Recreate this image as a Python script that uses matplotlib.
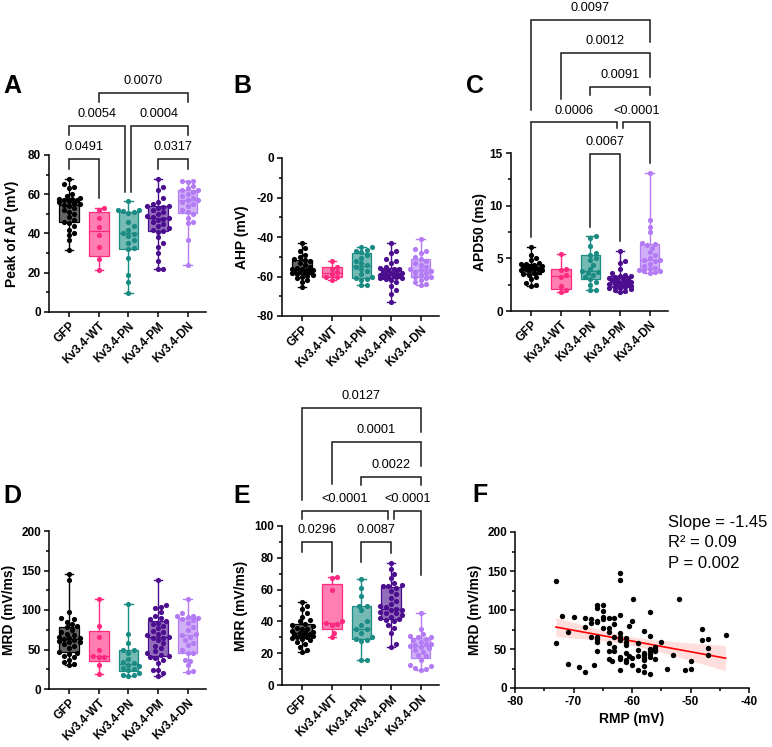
import numpy as np
import matplotlib
matplotlib.use('Agg')
import matplotlib.pyplot as plt
from matplotlib.colors import to_rgba
from matplotlib.ticker import MultipleLocator

plt.rcParams['font.family'] = ['Liberation Sans', 'DejaVu Sans']
plt.rcParams['axes.unicode_minus'] = False

groups = ['GFP', 'Kv3.4-WT', 'Kv3.4-PN', 'Kv3.4-PM', 'Kv3.4-DN']
colors = ['#000000', '#FF2A7F', '#1A8C84', '#4B0E8F', '#B47CF4']

# Panel A: Peak of AP (mV)
peak_gfp = [31.5, 36.5, 39, 40.5, 42, 44, 45.5, 46, 47, 48.5, 50, 51, 52, 53, 54, 54.5, 55, 55.5, 56,
            56.5, 57, 57, 57.5, 57.5, 58, 59, 60, 63, 63.5, 65, 68]
peak_wt = [21.5, 27, 33, 39, 43.5, 48, 52, 53]
peak_pn = [9.8, 15.1, 18.9, 27.4, 32, 32.5, 35, 36.5, 38.5, 39.5, 40.5, 42, 44, 46, 50.5, 51, 51.5, 52, 52, 56.5]
peak_pm = [22, 22, 26, 30, 33, 35, 38, 41, 41.5, 42, 43, 44, 45, 46, 47, 47.5, 48, 48.5, 49, 50, 51, 52,
           53, 53.5, 54, 54, 55, 56, 58, 62, 63.5, 68]
peak_dn = [24, 36.5, 45.5, 46, 48, 50, 51, 52, 54, 55, 56, 57, 57, 58, 59, 60, 61, 62, 62, 63, 64, 66, 66.5, 66.5]

# Panel B: AHP (mV)
ahp_gfp = [-65.5, -63, -62, -61, -60, -59.5, -59, -58.5, -58, -58, -57.5, -57, -57, -56.5, -56.5, -56, -56,
           -55.5, -55, -54, -53, -52, -51.5, -51, -50, -49, -47, -45.5, -43]
ahp_wt = [-62, -60.5, -60, -58.5, -57.5, -56, -55, -52]
ahp_pn = [-64.5, -64.5, -62, -61.5, -61, -60, -58.5, -57, -56, -55, -54, -53, -52, -50.5, -49, -47.5, -47,
          -46.5, -45, -45]
ahp_pm = [-73, -69, -67, -65, -63, -62, -61.5, -61, -61, -60.5, -60, -60, -59.5, -59, -59, -58.5, -58, -58,
          -57.5, -57, -56.5, -56, -56, -55.5, -55, -53, -52, -51, -48, -47, -43]
ahp_dn = [-64.5, -64, -63, -62, -61, -60, -60, -59, -58, -57.5, -57, -56.5, -56, -55, -54, -53, -52, -51, -50,
          -48, -47, -46, -41]

# Panel C: APD50 (ms)
apd_gfp = [2.4, 2.5, 2.7, 3.0, 3.2, 3.4, 3.5, 3.6, 3.7, 3.8, 3.9, 3.9, 4.0, 4.0, 4.0, 4.1, 4.1, 4.2, 4.3, 4.3,
           4.4, 4.5, 4.5, 4.6, 4.8, 5.0, 5.3, 6.1]
apd_wt = [1.8, 2.0, 2.4, 3.2, 3.4, 3.9, 4.0, 5.4]
apd_pn = [2.0, 2.0, 2.5, 2.8, 3.0, 3.2, 3.4, 3.6, 3.7, 3.8, 4.0, 4.4, 4.8, 5.0, 5.3, 5.5, 6.2, 6.9, 7.1]
apd_pm = [1.8, 1.9, 2.0, 2.1, 2.2, 2.2, 2.3, 2.3, 2.4, 2.5, 2.5, 2.6, 2.6, 2.7, 2.7, 2.8, 2.8, 2.9, 2.9, 3.0,
          3.0, 3.1, 3.2, 3.3, 3.3, 3.4, 3.6, 4.0, 4.6, 4.7, 5.7]
apd_dn = [3.6, 3.7, 3.8, 3.8, 3.9, 4.0, 4.1, 4.3, 4.5, 4.7, 4.8, 4.8, 5.0, 5.3, 5.6, 6.0, 6.3, 6.4, 6.5, 7.5,
          8.0, 8.6, 13.1]

# Panel D: MRD (mV/ms)
mrd_gfp = [30, 32, 34, 37, 40, 42, 44, 46, 47, 52, 55, 57, 59, 60, 61, 62, 63, 64, 65, 66, 68, 70, 72, 75, 78,
           80, 82, 85, 88, 90, 98, 138, 146]
mrd_wt = [19, 30, 40, 41, 42, 49, 66, 80, 114.5]
mrd_pn = [17, 17.5, 18, 20, 24, 25, 27, 29, 31, 33, 34, 38, 45, 49, 50, 58, 69.5, 107]
mrd_pm = [16, 20, 24, 24.5, 33, 37, 39, 40, 42, 43, 45, 48, 52, 55, 58, 62, 64, 65, 66, 68, 70, 72, 74, 77,
          80, 82, 84, 86, 88, 90, 93, 97, 102, 104, 106, 138.5]
mrd_dn = [21, 23, 30, 36, 37, 45, 46, 50, 56, 58, 62, 66, 68, 70, 75, 79, 84, 87, 89, 90, 91, 92, 93, 96, 114]

# Panel E: MRR (mV/ms)
mrr_gfp = [21, 22, 24, 26, 27, 28, 29, 29.5, 30, 30.5, 31, 31, 32, 32, 32.5, 33, 33.5, 34, 35, 35.5, 36, 37,
           38, 38.5, 40, 41, 43, 45, 48, 50, 52.5]
mrr_wt = [30, 33, 37.5, 38.5, 39, 40, 60, 67.5, 68]
mrr_pn = [15.5, 16, 27.5, 28.5, 29, 30, 33, 35, 35.5, 37.5, 40, 47, 49.5, 50, 56, 61, 66.5]
mrr_pm = [24, 26, 33, 36, 38, 40, 41, 41.5, 42, 43, 44, 45, 45.5, 46, 47, 47, 48, 49, 50, 51, 53, 55, 57, 59,
          61, 62, 62.5, 63, 64, 67, 70, 73, 77]
mrr_dn = [9.5, 10, 11, 12, 12.5, 16, 18, 19, 21, 22, 23, 24, 24.5, 25, 25.5, 26, 27, 28, 29, 30, 30.5, 31, 32,
          35, 45]

# Panel F: RMP (mV) vs MRD (mV/ms)
rmp = [-73, -73, -72, -71, -71, -70, -69, -68, -68, -68, -67, -67, -67, -66.5, -66, -66, -66, -66, -66, -66,
       -66, -66, -65, -65, -65, -65, -65, -64, -64, -64, -64, -64, -64, -63.5, -63, -63, -63, -63, -63, -62,
       -62, -62, -62, -62, -62, -62, -62, -62, -61, -61, -61, -61, -61, -61, -60.5, -60.5, -60, -60, -60,
       -59.8, -59, -59, -59, -59, -58, -58, -58, -58, -58, -58, -58, -57, -57, -57, -57, -57, -57, -57, -56,
       -56, -56, -56, -55, -54, -53, -52, -51, -50, -50, -48, -48, -47, -47, -47, -44]
mrd_f = [137.4, 58.3, 92.8, 71.5, 30.6, 91.5, 27.2, 89.4, 77.9, 20, 88.1, 83, 66, 29.8, 106, 103, 86, 84, 66,
         63, 59.6, 46.8, 106.4, 98.7, 91.5, 88, 77.4, 89.4, 77.4, 72.3, 57.4, 48, 37, 34, 89.4, 81.7, 66, 53.2,
         46.8, 146.8, 138.3, 93.6, 70, 66, 60.9, 39.6, 37, 23.4, 63.8, 59.6, 55.3, 44.7, 36.2, 32.8, 80, 40.4,
         86.4, 29.8, 39, 114, 58.3, 48.9, 40.4, 22.6, 73.2, 44.7, 41.7, 39.1, 36.2, 28.5, 20, 97, 66.8, 49.8,
         46.8, 43.8, 39.6, 18.3, 53.2, 46.8, 37, 49.8, 59.6, 24.7, 42.6, 114, 23.4, 34, 24.7, 75.3, 61.7, 63,
         51.9, 41.7, 68.1]
f_stats = ['Slope = -1.45', 'R\u00b2 = 0.09', 'P = 0.002']

# p-value annotations: (group i, group j, label)
cmp_a = [(0, 1, '0.0491'), (0, 2, '0.0054'), (2, 4, '0.0004'), (1, 4, '0.0070'), (3, 4, '0.0317')]
cmp_c = [(0, 4, '0.0097'), (1, 4, '0.0012'), (2, 4, '0.0091'), (0, 3, '0.0006'), (3, 4, '<0.0001'),
         (2, 3, '0.0067')]
cmp_e = [(0, 4, '0.0127'), (1, 4, '0.0001'), (2, 4, '0.0022'), (0, 3, '<0.0001'), (3, 4, '<0.0001'),
         (0, 1, '0.0296'), (2, 3, '0.0087')]

W, H = 772, 747
fig = plt.figure(figsize=(W / 100, H / 100), dpi=100)


def add_ax(left, top, width, height):
    return fig.add_axes([left / W, 1 - (top + height) / H, width / W, height / H])


def style_axes(ax):
    for s in ['top', 'right']:
        ax.spines[s].set_visible(False)
    for s in ['left', 'bottom']:
        ax.spines[s].set_linewidth(1.1)
    ax.tick_params(which='major', direction='out', length=3.8, width=1.1, labelsize=8.5, pad=2)
    ax.tick_params(which='minor', direction='out', length=2.3, width=1.1)
    for lab in ax.get_yticklabels():
        lab.set_fontweight('bold')


def swarm_offsets(values, ypx, xpx, d=4.8, maxoff=0.36):
    vals = np.asarray(values, float)
    order = np.argsort(vals)
    placed = []
    offs = np.zeros(len(vals))
    cands = [0.0]
    for k in range(1, 30):
        cands += [k * d * 0.55, -k * d * 0.55]
    for i in order:
        y = vals[i] * ypx
        best, bestd = 0.0, -1
        for c in cands:
            if abs(c) > maxoff * xpx:
                continue
            md = min([np.hypot(c - px, y - py) for px, py in placed] + [99])
            if md >= d:
                best = c
                break
            if md > bestd:
                best, bestd = c, md
        placed.append((best, y))
        offs[i] = best / xpx
    return offs


def box_panel(ax, data, ylim, major, minor, ylabel, hpx, label_x):
    ax.set_xlim(-0.68, 4.62)
    ax.set_ylim(*ylim)
    stats = []
    for v in data:
        v = np.asarray(v, float)
        q1, med, q3 = np.percentile(v, [25, 50, 75], method='weibull')
        stats.append(dict(med=med, q1=q1, q3=q3, whislo=v.min(), whishi=v.max(), fliers=[]))
    ypx = hpx / (ylim[1] - ylim[0])
    for i, (st, col, v) in enumerate(zip(stats, colors, data)):
        a = 0.6
        ax.bxp([st], positions=[i], widths=0.66, patch_artist=True, showfliers=False,
               capwidths=0.28, manage_ticks=False,
               boxprops=dict(facecolor=to_rgba(col, a), edgecolor=col, linewidth=0.9),
               whiskerprops=dict(color=col, linewidth=1.0),
               capprops=dict(color=col, linewidth=1.0),
               medianprops=dict(color=col, linewidth=0.9))
        offs = swarm_offsets(v, ypx, 29.6)
        ax.scatter(i + offs, v, s=14, color=col, zorder=3, linewidths=0, clip_on=False)
    ax.set_xticks(range(5))
    ax.set_xticklabels(groups, rotation=45, ha='right', rotation_mode='anchor', fontsize=9.5,
                       fontweight='bold')
    ax.yaxis.set_major_locator(MultipleLocator(major))
    ax.yaxis.set_minor_locator(MultipleLocator(minor))
    ax.spines['left'].set_bounds(*ylim)
    style_axes(ax)
    ax.set_ylabel(ylabel, fontsize=10, fontweight='bold')
    ax.yaxis.set_label_coords(label_x, 0.5)


def brackets(ax, specs):
    for (x1, x2, yh, e1, e2, lab) in specs:
        ax.plot([x1, x1, x2, x2], [e1, yh, yh, e2], color='#1a1a1a', lw=1.1, clip_on=False,
                solid_joinstyle='miter')
        ax.annotate(lab, xy=((x1 + x2) / 2, yh), xytext=(0, 8.6), textcoords='offset points',
                    ha='center', va='center', fontsize=9.2, annotation_clip=False)


# ---- Panel A
axA = add_ax(49, 155, 157, 157)
box_panel(axA, [peak_gfp, peak_wt, peak_pn, peak_pm, peak_dn], (0, 80), 20, 10, 'Peak of AP (mV)', 157, -0.19)
pos_a = {(0, 1): (0, 1, 78.0, 72.9, 58.1), (0, 2): (0, 1.9, 94.8, 90.2, 61.1),
         (2, 4): (2.1, 4, 94.8, 61.1, 90.2), (1, 4): (1, 4, 111.6, 107.0, 107.0),
         (3, 4): (3, 4, 78.0, 72.9, 72.9)}
brackets(axA, [pos_a[(i, j)] + (lab,) for i, j, lab in cmp_a])

# ---- Panel B
axB = add_ax(282, 158, 157, 158)
box_panel(axB, [ahp_gfp, ahp_wt, ahp_pn, ahp_pm, ahp_dn], (-80, 0), 20, 10, 'AHP (mV)', 158, -0.21)

# ---- Panel C
axC = add_ax(511, 153, 157, 158)
box_panel(axC, [apd_gfp, apd_wt, apd_pn, apd_pm, apd_dn], (0, 15), 5, 2.5, 'APD50 (ms)', 158, -0.15)
pos_c = {(0, 4): (0, 4, 27.6, 19.1, 25.5), (1, 4): (1, 4, 24.5, 20.1, 22.2),
         (2, 4): (2, 4, 21.3, 20.5, 20.5), (0, 3): (0, 2.9, 17.9, 7.0, 17.4),
         (3, 4): (3.1, 4, 17.9, 17.4, 14.05), (2, 3): (2, 3, 14.9, 8.0, 6.6)}
brackets(axC, [pos_c[(i, j)] + (lab,) for i, j, lab in cmp_c])

# ---- Panel D
axD = add_ax(49, 531, 157, 158)
box_panel(axD, [mrd_gfp, mrd_wt, mrd_pn, mrd_pm, mrd_dn], (0, 200), 50, 25, 'MRD (mV/ms)', 158, -0.21)

# ---- Panel E
axE = add_ax(282, 526, 157, 159)
box_panel(axE, [mrr_gfp, mrr_wt, mrr_pn, mrr_pm, mrr_dn], (0, 100), 20, 10, 'MRR (mV/ms)', 159, -0.215)
pos_e = {(0, 4): (0, 4, 174.2, 116.4, 159.1), (1, 4): (1, 4, 152.8, 126.4, 137.7),
         (2, 4): (2, 4, 130.8, 125.8, 125.8), (0, 3): (0, 2.9, 109.4, 104.4, 104.4),
         (3, 4): (3.1, 4, 109.4, 104.4, 69.2), (0, 1): (0, 1, 89.9, 83.6, 71.1),
         (2, 3): (2, 3, 89.9, 77.4, 83.0)}
brackets(axE, [pos_e[(i, j)] + (lab,) for i, j, lab in cmp_e])

# ---- Panel F
axF = add_ax(515, 532, 234, 156)
x = np.asarray(rmp, float)
y = np.asarray(mrd_f, float)
axF.scatter(x, y, s=15, color='black', linewidths=0, zorder=3, clip_on=False)
slope, intercept = np.polyfit(x, y, 1)
xs = np.linspace(x.min(), x.max(), 100)
n = len(x)
resid = y - (slope * x + intercept)
s_err = np.sqrt(np.sum(resid ** 2) / (n - 2))
sxx = np.sum((x - x.mean()) ** 2)
ci = 1.985 * s_err * np.sqrt(1 / n + (xs - x.mean()) ** 2 / sxx)
yfit = slope * xs + intercept
axF.fill_between(xs, yfit - ci, yfit + ci, color=to_rgba('#FF0000', 0.13), linewidth=0, zorder=1)
axF.plot(xs, yfit, color='#FF0000', lw=1.2, zorder=2)
axF.set_xlim(-80, -40)
axF.set_ylim(0, 200)
axF.xaxis.set_major_locator(MultipleLocator(10))
axF.xaxis.set_minor_locator(MultipleLocator(5))
axF.yaxis.set_major_locator(MultipleLocator(50))
axF.yaxis.set_minor_locator(MultipleLocator(25))
style_axes(axF)
for lab in axF.get_xticklabels():
    lab.set_fontweight('bold')
axF.set_ylabel('MRD (mV/ms)', fontsize=10, fontweight='bold')
axF.yaxis.set_label_coords(-0.14, 0.5)
axF.set_xlabel('RMP (mV)', fontsize=10, fontweight='bold', labelpad=3)
for k, t in enumerate(f_stats):
    fig.text(668 / W, 1 - (522 + 20.5 * k) / H, t, fontsize=12, va='center', ha='left')

# Panel letters
for letter, (lx, ly) in {'A': (3, 93), 'B': (233, 93), 'C': (466, 93),
                         'D': (3, 503), 'E': (233, 503), 'F': (472, 502)}.items():
    fig.text(lx / W, 1 - ly / H, letter, fontsize=18, fontweight='bold', va='baseline', ha='left')

fig.savefig('out.png', dpi=100)
